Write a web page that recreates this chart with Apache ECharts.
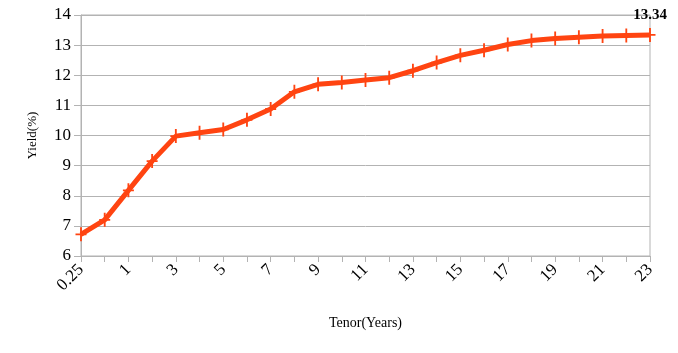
<!DOCTYPE html>
<html><head><meta charset="utf-8">
<script src="https://cdn.jsdelivr.net/npm/echarts@6/dist/echarts.min.js"></script>
<style>html,body{margin:0;padding:0;background:#fff}#c{width:678px;height:353px}</style>
</head><body><div id="c"></div>
<script>
var tenors = ['0.25','0.5','1','2','3','4','5','6','7','8','9','10','11','12','13','14','15','16','17','18','19','20','21','22','23'];
var yields = [6.72,7.2,8.18,9.15,9.98,10.09,10.2,10.52,10.88,11.45,11.7,11.76,11.84,11.92,12.15,12.42,12.66,12.83,13.02,13.15,13.22,13.26,13.3,13.32,13.34];
var yTicks = [6,7,8,9,10,11,12,13,14];
var font = 'Liberation Serif';
var chart = echarts.init(document.getElementById('c'));
chart.setOption({
  animation:false,
  grid:{left:81,right:28,top:15,bottom:97,show:true,borderColor:'#b3b3b3',borderWidth:1},
  xAxis:{type:'category',data:tenors,boundaryGap:false,
    name:'Tenor(Years)',nameLocation:'middle',nameGap:60,
    nameTextStyle:{fontFamily:font,fontSize:14,color:'#000'},
    axisLine:{lineStyle:{color:'#b3b3b3'}},
    axisTick:{show:true,length:6,interval:0,lineStyle:{color:'#b3b3b3'}},
    axisLabel:{interval:1,rotate:45,fontFamily:font,fontSize:17,color:'#000',margin:11}
  },
  yAxis:{type:'value',min:yTicks[0],max:yTicks[yTicks.length-1],interval:1,
    name:'Yield(%)',nameLocation:'middle',nameGap:42,
    nameTextStyle:{fontFamily:font,fontSize:13,color:'#000'},
    axisLine:{show:true,lineStyle:{color:'#b3b3b3'}},
    axisTick:{show:true,length:7,lineStyle:{color:'#b3b3b3'}},
    splitLine:{lineStyle:{color:'#b3b3b3'}},
    axisLabel:{fontFamily:font,fontSize:17,color:'#000',margin:10}
  },
  series:[{type:'line',data:yields,
    lineStyle:{color:'#ff4411',width:5},
    itemStyle:{color:'#ff4411'},
    symbol:'path://M4,0h1.6v5.5h4v1.6h-4v5.5h-1.6v-5.5h-4v-1.6h4z',
    symbolSize:[11,14],
    label:{show:true,position:'top',distance:5,fontFamily:font,fontWeight:'bold',fontSize:15,color:'#000',
      formatter:function(p){return p.dataIndex===yields.length-1?p.value.toFixed(2):'';}}
  }]
});
</script></body></html>
